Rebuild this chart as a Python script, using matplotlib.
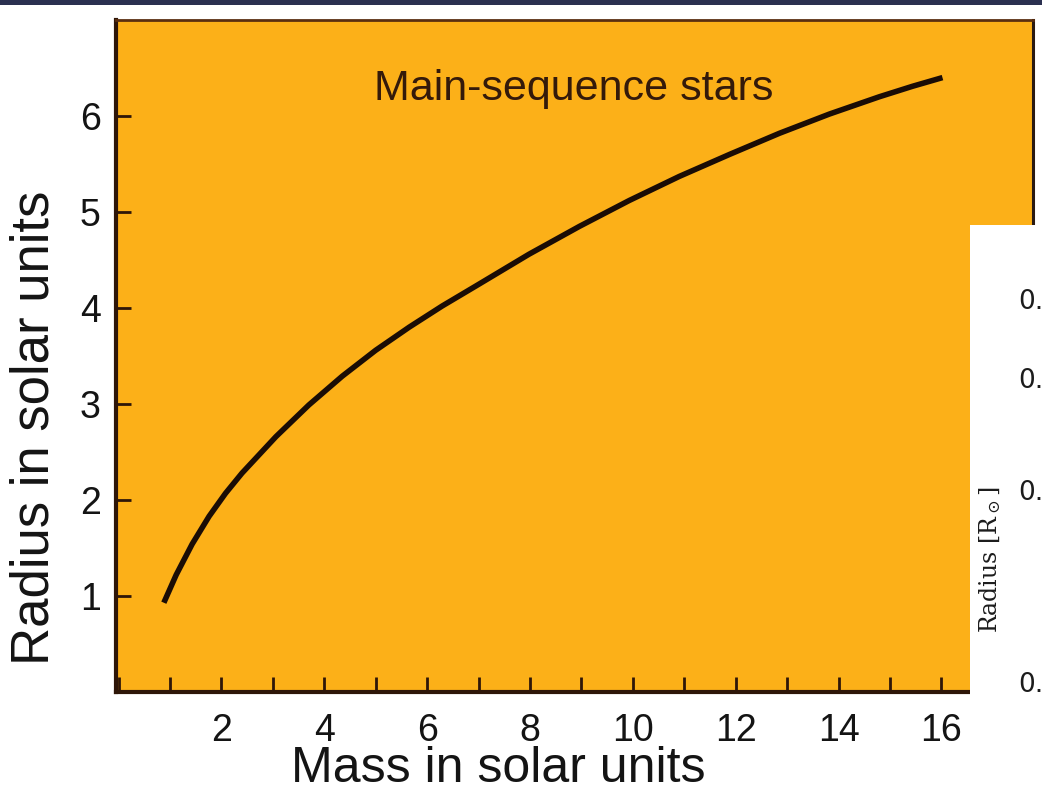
import matplotlib
matplotlib.use("Agg")
import matplotlib.pyplot as plt
from matplotlib.patches import Rectangle
from matplotlib.ticker import MultipleLocator, FixedLocator, NullLocator

# mass-radius curve (solar units)
mass = [0.88, 1.12, 1.43, 1.76, 2.08, 2.40, 3.06, 3.70, 4.35, 5.00, 5.65, 6.29, 6.95,
        7.98, 8.96, 9.93, 10.90, 11.88, 12.85, 13.82, 14.79, 15.44, 16.02]
radius = [0.93, 1.22, 1.54, 1.83, 2.07, 2.28, 2.66, 2.99, 3.29, 3.56, 3.80, 4.02, 4.23,
          4.56, 4.85, 5.12, 5.37, 5.60, 5.82, 6.02, 6.20, 6.31, 6.40]

xticks = [2, 4, 6, 8, 10, 12, 14, 16]
yticks = [1, 2, 3, 4, 5, 6]

# second (cut off) panel on the right: log radius axis
panel_ticks = [0.2, 0.4, 0.6, 0.8]
panel_labels = ["0.2", "0.4", "0.6", "0.8"]

orange = '#fcb018'
brown = '#2e1608'
W, H = 1042, 801

plt.rcParams['mathtext.fontset'] = 'dejavuserif'
fig = plt.figure(figsize=(W / 100, H / 100), dpi=100)
fig.patch.set_facecolor('white')

def px(l, t, r, b):
    return [l / W, 1 - b / H, (r - l) / W, (b - t) / H]

ax = fig.add_axes(px(116, 20, 1033, 692))
ax.set_facecolor(orange)
ax.plot(mass, radius, color='#1a0c05', lw=4.0, solid_capstyle='butt')

ax.set_xlim(-0.05, 17.78)
ax.set_ylim(0, 7)
ax.xaxis.set_major_locator(FixedLocator(xticks))
ax.xaxis.set_minor_locator(MultipleLocator(1))
ax.yaxis.set_major_locator(FixedLocator(yticks))
ax.yaxis.set_minor_locator(NullLocator())
ax.tick_params(which='both', direction='in', length=11, width=2, color=brown)
ax.tick_params(axis='x', which='major', pad=15)
ax.tick_params(axis='y', which='major', pad=11)

font = 'Liberation Sans'
for lab in ax.get_xticklabels() + ax.get_yticklabels():
    lab.set_fontsize(27)
    lab.set_family(font)
    lab.set_color('#141414')

for side in ['left', 'bottom']:
    ax.spines[side].set_linewidth(3)
    ax.spines[side].set_color(brown)
ax.spines['top'].set_linewidth(2)
ax.spines['top'].set_color('#5a2e10')
ax.spines['right'].set_linewidth(2.2)
ax.spines['right'].set_color('#2a1a12')

ax.set_xlabel('Mass in solar units', fontsize=36, family=font, color='#141414')
ax.set_ylabel('Radius in solar units', fontsize=38, family=font, color='#141414')
ax.xaxis.set_label_coords((498 - 116) / 917, (692 - 746) / 672)
ax.yaxis.set_label_coords((60 - 116) / 917, (692 - 428) / 672)

ax.text(8.85, 6.28, 'Main-sequence stars', fontsize=31, family=font,
        color='#341a0a', ha='center', va='center')

# top navy bar of the screenshot
fig.patches.append(Rectangle((0, 1 - 5 / H), 1, 5 / H, transform=fig.transFigure,
                             facecolor='#2b3050', edgecolor='none', zorder=5))
# white panel overlapping on the right
fig.patches.append(Rectangle((970 / W, 0), (W - 970) / W, (H - 225) / H,
                             transform=fig.transFigure, facecolor='white',
                             edgecolor='none', zorder=5))

ax2 = fig.add_axes([1066 / W, 0, 0.2, (H - 225) / H], zorder=6)
ax2.patch.set_alpha(0)
ax2.set_yscale('log')
ax2.set_ylim(0.130, 1.044)
ax2.set_yticks(panel_ticks, labels=panel_labels)
ax2.yaxis.set_minor_locator(NullLocator())
ax2.set_xticks([])
ax2.tick_params(axis='y', length=0, pad=4)
for lab in ax2.get_yticklabels():
    lab.set_fontsize(19)
    lab.set_color('#1c1c1c')
for s in ax2.spines.values():
    s.set_visible(False)
ax2.set_ylabel(r'Radius [R$_\odot$]', fontsize=17, family='DejaVu Serif', color='#1c1c1c')
ax2.yaxis.set_label_coords((1003 - 1066) / (0.2 * W), (801 - 560) / 576)

fig.savefig('out.png', dpi=100)
